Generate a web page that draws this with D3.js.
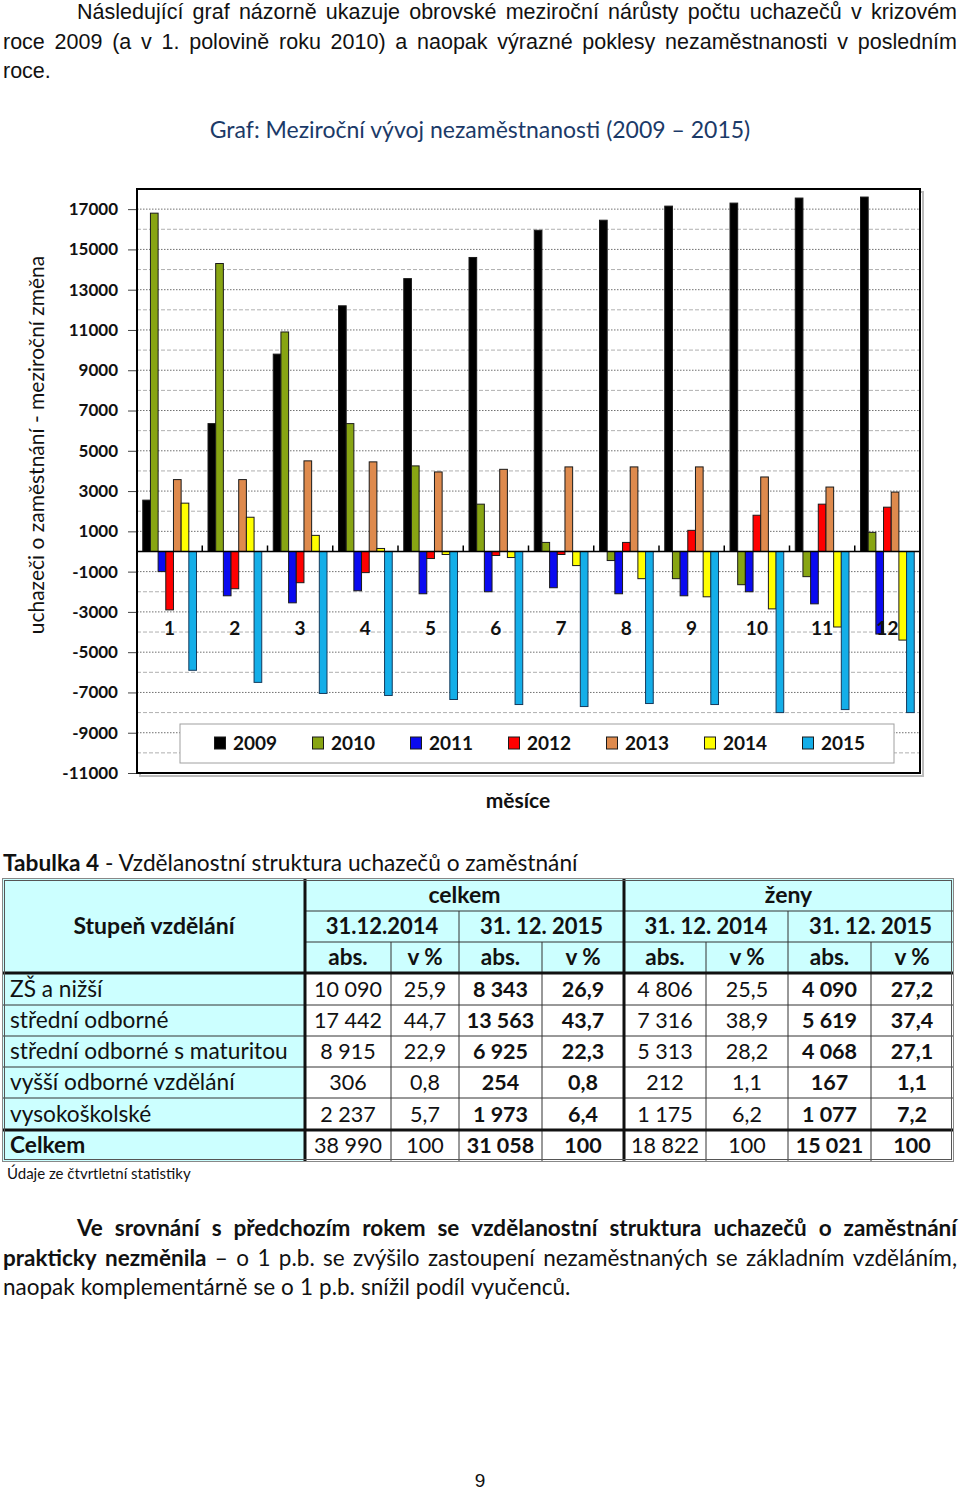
<!DOCTYPE html>
<html>
<head>
<meta charset="utf-8">
<script src="https://cdn.jsdelivr.net/npm/d3@7"></script>
<style>
  body { margin: 0; background: #fff; }
  svg { display: block; }
</style>
</head>
<body>
<svg id="page" width="960" height="1490"></svg>
<script>
// ---- data ----
var months = ["1", "2", "3", "4", "5", "6", "7", "8", "9", "10", "11", "12"];
var years = ["2009", "2010", "2011", "2012", "2013", "2014", "2015"];
var v2009 = [2550, 6350, 9800, 12200, 13550, 14600, 15950, 16450, 17150, 17300, 17550, 17600];
var v2010 = [16800, 14300, 10900, 6350, 4250, 2350, 450, -450, -1350, -1650, -1250, 950];
var v2011 = [-1000, -2200, -2550, -1950, -2100, -2000, -1800, -2100, -2200, -2000, -2600, -4100];
var v2012 = [-2900, -1850, -1550, -1050, -350, -200, -150, 450, 1050, 1800, 2350, 2200];
var v2013 = [3570, 3570, 4500, 4450, 3950, 4080, 4200, 4200, 4200, 3700, 3200, 2950];
var v2014 = [2400, 1700, 800, 150, -150, -300, -700, -1350, -2250, -2850, -3750, -4400];
var v2015 = [-5900, -6500, -7050, -7150, -7350, -7600, -7700, -7550, -7600, -8000, -7850, -8000];
var yTicks = [-11000, -9000, -7000, -5000, -3000, -1000, 1000, 3000, 5000, 7000, 9000, 11000, 13000, 15000, 17000];

var tableRows = ["ZŠ a nižší", "střední odborné", "střední odborné s maturitou",
  "vyšší odborné vzdělání", "vysokoškolské", "Celkem"];
var rowZS = ["10 090", "25,9", "8 343", "26,9", "4 806", "25,5", "4 090", "27,2"];
var rowSO = ["17 442", "44,7", "13 563", "43,7", "7 316", "38,9", "5 619", "37,4"];
var rowSOM = ["8 915", "22,9", "6 925", "22,3", "5 313", "28,2", "4 068", "27,1"];
var rowVOS = ["306", "0,8", "254", "0,8", "212", "1,1", "167", "1,1"];
var rowVS = ["2 237", "5,7", "1 973", "6,4", "1 175", "6,2", "1 077", "7,2"];
var rowCelkem = ["38 990", "100", "31 058", "100", "18 822", "100", "15 021", "100"];
var groupHeads = ["celkem", "ženy"];
var dateHeads = ["31.12.2014", "31. 12. 2015", "31. 12. 2014", "31. 12. 2015"];
var unitHeads = ["abs.", "v %", "abs.", "v %", "abs.", "v %", "abs.", "v %"];

var seriesValues = [v2009, v2010, v2011, v2012, v2013, v2014, v2015];
var tableValues = [rowZS, rowSO, rowSOM, rowVOS, rowVS, rowCelkem];

// ---- styles ----
var colors = ["#000000", "#88a513", "#0a0af0", "#ff0000", "#de8a4d", "#ffff00", "#14aee8"];
var calibri = "Lato, 'Open Sans', sans-serif";
var arial = "'Liberation Sans', Arial, sans-serif";

var svg = d3.select("#page");

// helper: write a line of words, optionally justified between x0 and x1
function textLine(segs, x0, x1, yBase, family, size, justify) {
  var words = [];
  segs.forEach(function(s) {
    s.t.split(" ").filter(function(w) { return w.length; }).forEach(function(w) {
      words.push({ t: w, b: s.b });
    });
  });
  var nodes = words.map(function(w) {
    return svg.append("text")
      .attr("y", yBase)
      .attr("font-family", family)
      .attr("font-size", size)
      .attr("font-weight", w.b ? "bold" : "normal")
      .attr("fill", "#111")
      .text(w.t);
  });
  var widths = nodes.map(function(n) { return n.node().getComputedTextLength(); });
  var gap = justify ? (x1 - x0 - d3.sum(widths)) / (words.length - 1) : size * 0.27;
  var x = x0;
  nodes.forEach(function(n, i) { n.attr("x", x); x += widths[i] + gap; });
}

// ---- top paragraph ----
textLine([{ t: "Následující graf názorně ukazuje obrovské meziroční nárůsty počtu uchazečů v krizovém" }], 77, 957, 19, arial, 21.5, true);
textLine([{ t: "roce 2009 (a v 1. polovině roku 2010) a naopak výrazné poklesy nezaměstnanosti v posledním" }], 3, 957, 49, arial, 21.5, true);
textLine([{ t: "roce." }], 3, 957, 78, arial, 21.5, false);

// ---- chart ----
var plot = { left: 137, right: 920, top: 189, bottom: 773 };

var yScale = d3.scaleLinear().domain([-11000, 18000]).range([plot.bottom, plot.top]);
var xScale = d3.scaleBand().domain(months).range([plot.left, plot.right]);
var xInner = d3.scaleBand().domain(years).range([0, xScale.bandwidth()]).paddingOuter(0.75);

svg.append("text")
  .attr("x", 480).attr("y", 130).attr("dy", "0.35em")
  .attr("text-anchor", "middle")
  .attr("font-family", calibri).attr("font-size", 23)
  .attr("fill", "#1b3a68")
  .text("Graf: Meziroční vývoj nezaměstnanosti (2009 – 2015)");

// plot shadow
svg.append("rect")
  .attr("x", plot.left + 3).attr("y", plot.top + 3)
  .attr("width", plot.right - plot.left).attr("height", plot.bottom - plot.top)
  .attr("fill", "none").attr("stroke", "#bbb").attr("stroke-width", 2);
svg.append("rect")
  .attr("x", plot.left).attr("y", plot.top)
  .attr("width", plot.right - plot.left).attr("height", plot.bottom - plot.top)
  .attr("fill", "#fff");

// gridlines: minor (even thousands) dashed, major (tick values) dotted
var minorVals = d3.range(-10000, 18000, 2000).filter(function(d) { return d !== 0; });
svg.append("g").selectAll("line").data(minorVals).enter().append("line")
  .attr("x1", plot.left).attr("x2", plot.right)
  .attr("y1", function(d) { return yScale(d); }).attr("y2", function(d) { return yScale(d); })
  .attr("stroke", "#b0b0b0").attr("stroke-dasharray", "4,2").attr("stroke-width", 1);
svg.append("g").selectAll("line").data(yTicks.filter(function(d) { return d > -11000; })).enter().append("line")
  .attr("x1", plot.left).attr("x2", plot.right)
  .attr("y1", function(d) { return yScale(d); }).attr("y2", function(d) { return yScale(d); })
  .attr("stroke", "#707070").attr("stroke-dasharray", "1.5,1.5").attr("stroke-width", 1);

// bars
var series = years.map(function(yr, i) {
  return { year: yr, color: colors[i], values: seriesValues[i] };
});
var groups = svg.append("g").selectAll("g").data(series).enter().append("g");
groups.selectAll("rect")
  .data(function(s) { return s.values.map(function(v, j) { return { year: s.year, month: months[j], value: v, color: s.color }; }); })
  .enter().append("rect")
  .attr("x", function(d) { return xScale(d.month) + xInner(d.year); })
  .attr("y", function(d) { return yScale(Math.max(0, d.value)); })
  .attr("width", xInner.bandwidth())
  .attr("height", function(d) { return Math.abs(yScale(d.value) - yScale(0)); })
  .attr("fill", function(d) { return d.color; })
  .attr("stroke", function(d) { return d.year === "2015" ? "#153a5c" : "#1a1a1a"; })
  .attr("stroke-width", 1);

// zero axis line with category ticks
svg.append("line")
  .attr("x1", plot.left).attr("x2", plot.right)
  .attr("y1", yScale(0)).attr("y2", yScale(0))
  .attr("stroke", "#000").attr("stroke-width", 1.5);
svg.append("g").selectAll("line").data(months.slice(1)).enter().append("line")
  .attr("x1", function(d) { return xScale(d); }).attr("x2", function(d) { return xScale(d); })
  .attr("y1", yScale(0)).attr("y2", yScale(0) - 6)
  .attr("stroke", "#000").attr("stroke-width", 1.5);

// month labels
var xAxis = d3.axisBottom(xScale).tickSize(0).tickPadding(70);
var xg = svg.append("g")
  .attr("transform", "translate(0," + yScale(0) + ")")
  .call(xAxis);
xg.select(".domain").remove();
xg.selectAll("text")
  .attr("font-family", calibri).attr("font-size", 19).attr("font-weight", "bold").attr("fill", "#111");

// y axis
var yAxis = d3.axisLeft(yScale).tickValues(yTicks).tickSize(9).tickPadding(10)
  .tickFormat(function(d) { return String(d); });
var yg = svg.append("g")
  .attr("transform", "translate(" + plot.left + ",0)")
  .call(yAxis);
yg.select(".domain").remove();
yg.selectAll(".tick line").attr("stroke", "#444");
yg.selectAll("text")
  .attr("font-family", calibri).attr("font-size", 17).attr("font-weight", "bold").attr("fill", "#111");

// frame
svg.append("rect")
  .attr("x", plot.left).attr("y", plot.top)
  .attr("width", plot.right - plot.left).attr("height", plot.bottom - plot.top)
  .attr("fill", "none").attr("stroke", "#000").attr("stroke-width", 2);

// y title
svg.append("text")
  .attr("transform", "translate(37,445) rotate(-90)")
  .attr("dy", "0.35em")
  .attr("text-anchor", "middle")
  .attr("font-family", calibri).attr("font-size", 21)
  .attr("fill", "#111")
  .text("uchazeči o zaměstnání - meziroční změna");

// x title
svg.append("text")
  .attr("x", 518).attr("y", 801).attr("dy", "0.35em")
  .attr("text-anchor", "middle")
  .attr("font-family", calibri).attr("font-size", 21).attr("font-weight", "bold")
  .attr("fill", "#111")
  .text("měsíce");

// legend
svg.append("rect")
  .attr("x", 180).attr("y", 724).attr("width", 714).attr("height", 39)
  .attr("fill", "#fff").attr("stroke", "#a0a0a0").attr("stroke-width", 1);
var legendX = d3.scaleBand().domain(years).range([214, 214 + 98 * years.length]);
var legend = svg.append("g").selectAll("g").data(series).enter().append("g")
  .attr("transform", function(d) { return "translate(" + legendX(d.year) + ",743)"; });
legend.append("rect")
  .attr("x", 0.5).attr("y", -6).attr("width", 11).attr("height", 12)
  .attr("fill", function(d) { return d.color; })
  .attr("stroke", "#1a1a1a").attr("stroke-width", 1);
legend.append("text")
  .attr("x", 19).attr("dy", "0.35em")
  .attr("font-family", calibri).attr("font-size", 19).attr("font-weight", "bold")
  .attr("fill", "#111")
  .text(function(d) { return d.year; });

// ---- table ----
var tt = svg.append("text").attr("x", 3).attr("y", 863).attr("dy", "0.35em")
  .attr("font-family", calibri).attr("font-size", 22.7).attr("fill", "#111");
tt.append("tspan").attr("font-weight", "bold").text("Tabulka 4");
tt.append("tspan").text(" - Vzdělanostní struktura uchazečů o zaměstnání");

var colX = [3, 305, 391, 459, 542, 624, 706, 788, 871, 953];
var rowY = [879, 911, 942, 973, 1005, 1036, 1067, 1098, 1130, 1161];
var cyan = "#ccffff";

// backgrounds
svg.append("rect").attr("x", colX[0]).attr("y", rowY[0])
  .attr("width", colX[9] - colX[0]).attr("height", rowY[3] - rowY[0]).attr("fill", cyan);
svg.append("rect").attr("x", colX[0]).attr("y", rowY[3])
  .attr("width", colX[1] - colX[0]).attr("height", rowY[9] - rowY[3]).attr("fill", cyan);

function hline(y, xa, xb, w, c) {
  svg.append("line").attr("x1", xa).attr("x2", xb).attr("y1", y).attr("y2", y)
    .attr("stroke", c || "#333").attr("stroke-width", w || 1);
}
function vline(x, ya, yb, w, c) {
  svg.append("line").attr("x1", x).attr("x2", x).attr("y1", ya).attr("y2", yb)
    .attr("stroke", c || "#333").attr("stroke-width", w || 1);
}
hline(rowY[1], colX[1], colX[9]);
hline(rowY[2], colX[1], colX[9]);
[4, 5, 6, 7].forEach(function(i) { hline(rowY[i], colX[0], colX[9]); });
[2, 4, 6, 8].forEach(function(i) { vline(colX[i], rowY[2], rowY[9]); });
[3, 7].forEach(function(i) { vline(colX[i], rowY[1], rowY[9]); });
hline(rowY[3], colX[0], colX[9], 3, "#111");
hline(rowY[8], colX[0], colX[9], 3, "#111");
vline(colX[1], rowY[0], rowY[9], 3, "#111");
vline(colX[5], rowY[0], rowY[9], 3, "#111");
// outer double border
svg.append("rect").attr("x", colX[0] - 0.5).attr("y", rowY[0] - 0.5)
  .attr("width", colX[9] - colX[0] + 1).attr("height", rowY[9] - rowY[0] + 1)
  .attr("fill", "none").attr("stroke", "#888").attr("stroke-width", 1);
svg.append("rect").attr("x", colX[0] + 1.5).attr("y", rowY[0] + 1.5)
  .attr("width", colX[9] - colX[0] - 3).attr("height", rowY[9] - rowY[0] - 3)
  .attr("fill", "none").attr("stroke", "#555").attr("stroke-width", 1);

function cellText(x, y, s, bold, anchor, size) {
  svg.append("text").attr("x", x).attr("y", y).attr("dy", "0.35em")
    .attr("text-anchor", anchor || "middle")
    .attr("font-family", calibri).attr("font-size", size || 21)
    .attr("font-weight", bold ? "bold" : "normal")
    .attr("fill", "#111")
    .text(s);
}
function mid(a, b) { return (a + b) / 2; }

cellText(mid(colX[0], colX[1]), mid(rowY[0], rowY[3]), "Stupeň vzdělání", true, "middle", 23);
cellText(mid(colX[1], colX[5]), mid(rowY[0], rowY[1]), groupHeads[0], true, "middle", 23);
cellText(mid(colX[5], colX[9]), mid(rowY[0], rowY[1]), groupHeads[1], true, "middle", 23);
dateHeads.forEach(function(d, i) {
  cellText(mid(colX[1 + 2 * i], colX[3 + 2 * i]), mid(rowY[1], rowY[2]), d, true, "middle", 22);
});
unitHeads.forEach(function(d, i) {
  cellText(mid(colX[1 + i], colX[2 + i]), mid(rowY[2], rowY[3]), d, true, "middle", 22.5);
});
tableRows.forEach(function(r, ri) {
  var yc = mid(rowY[3 + ri], rowY[4 + ri]);
  cellText(10, yc, r, r === "Celkem", "start", 22.7);
  tableValues[ri].forEach(function(v, ci) {
    var bold = ci === 2 || ci === 3 || ci === 6 || ci === 7;
    cellText(mid(colX[1 + ci], colX[2 + ci]), yc, v, bold, "middle", 21.5);
  });
});

svg.append("text").attr("x", 7).attr("y", 1174).attr("dy", "0.35em")
  .attr("font-family", calibri).attr("font-size", 15).attr("fill", "#111")
  .text("Údaje ze čtvrtletní statistiky");

// ---- bottom paragraph ----
textLine([{ t: "Ve srovnání s předchozím rokem se vzdělanostní struktura uchazečů o zaměstnání", b: true }], 77, 957, 1236, calibri, 22.5, true);
textLine([{ t: "prakticky nezměnila", b: true },
  { t: "– o 1 p.b. se zvýšilo zastoupení nezaměstnaných se základním vzděláním,", b: false }], 3, 957, 1266, calibri, 22.5, true);
textLine([{ t: "naopak komplementárně se o 1 p.b. snížil podíl vyučenců." }], 3, 957, 1295, calibri, 22.5, false);

svg.append("text").attr("x", 480).attr("y", 1480).attr("dy", "0.35em")
  .attr("text-anchor", "middle")
  .attr("font-family", arial).attr("font-size", 19).attr("fill", "#111")
  .text("9");
</script>
</body>
</html>
